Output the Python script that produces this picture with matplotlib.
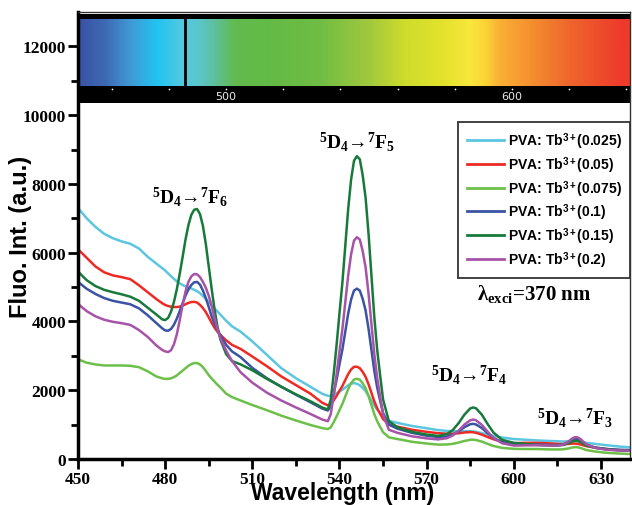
import numpy as np
import matplotlib
matplotlib.use("Agg")
import matplotlib.pyplot as plt
from matplotlib.colors import LinearSegmentedColormap, Normalize

plt.rcParams['mathtext.fontset'] = 'custom'
plt.rcParams['mathtext.rm'] = 'Liberation Serif:bold'
plt.rcParams['mathtext.it'] = 'Liberation Serif:bold'
plt.rcParams['mathtext.bf'] = 'Liberation Serif:bold'
plt.rcParams['mathtext.sf'] = 'Liberation Sans:bold'

# Emission spectra of PVA films doped with Tb3+ (excitation 370 nm)
wavelength = [450, 453, 456, 459, 462, 465, 468, 471, 474, 477,
              479, 480, 481, 482, 483, 484, 485, 486, 487, 488, 489,
              490, 491, 492, 493, 494, 495, 496, 497, 498, 499,
              501, 503, 506, 510, 515, 520, 525, 530, 534,
              536, 537, 538, 539, 540, 541, 542, 543, 544, 545,
              546, 547, 548, 549, 550, 551, 552, 553, 554, 555,
              557, 560, 565, 570, 574, 577, 579, 581, 583, 585, 586, 587,
              589, 591, 593, 596, 600,
              604, 608, 612, 615, 617, 619, 620, 621, 622, 623, 625, 628,
              632, 636, 640]

tb_0025 = [7300, 7000, 6750, 6550, 6420, 6330, 6260, 6120, 5880, 5680,
           5550, 5480, 5400, 5320, 5240, 5170, 5110, 5060, 5020, 4990, 4960,
           4920, 4880, 4820, 4740, 4650, 4560, 4470, 4380, 4290, 4200,
           4020, 3860, 3700, 3420, 3030, 2640, 2350, 2100, 1900,
           1840, 1833, 1867, 1913, 1965, 2014, 2079, 2145, 2191, 2208,
           2187, 2145, 2068, 1975, 1846, 1700, 1554, 1432, 1332, 1245,
           1110, 1050, 960, 895, 840, 817, 808, 807, 810, 807, 800, 789,
           754, 712, 672, 625, 580,
           560, 540, 525, 516, 509, 514, 518, 519, 514, 501, 469, 440,
           400, 365, 340]

tb_005 = [6100, 5850, 5600, 5430, 5340, 5290, 5230, 5050, 4850, 4650,
          4530, 4480, 4450, 4430, 4420, 4420, 4430, 4460, 4500, 4540, 4565,
          4570, 4550, 4480, 4390, 4270, 4120, 3960, 3820, 3700, 3610,
          3450, 3320, 3200, 2980, 2700, 2400, 2150, 1900, 1640,
          1560, 1589, 1702, 1834, 1981, 2122, 2297, 2471, 2604, 2682,
          2683, 2642, 2533, 2388, 2173, 1925, 1675, 1474, 1316, 1164,
          1000, 940, 850, 790, 750, 736, 735, 749, 772, 782, 778, 762,
          709, 639, 574, 505, 460,
          470, 470, 455, 441, 432, 439, 447, 448, 440, 421, 374, 330,
          290, 260, 240]

tb_0075 = [2900, 2800, 2750, 2720, 2720, 2720, 2710, 2670, 2550, 2400,
           2345, 2330, 2330, 2345, 2380, 2430, 2500, 2570, 2640, 2710, 2760,
           2790, 2790, 2750, 2670, 2560, 2440, 2340, 2250, 2160, 2080,
           1900, 1800, 1700, 1570, 1420, 1260, 1120, 990, 900,
           870, 922, 1068, 1238, 1423, 1602, 1819, 2036, 2206, 2312,
           2333, 2306, 2200, 2055, 1830, 1566, 1303, 1094, 933, 779,
           630, 580, 500, 450, 418, 423, 441, 478, 525, 558, 561, 552,
           506, 440, 379, 323, 295,
           290, 290, 280, 277, 281, 311, 333, 345, 341, 319, 260, 217,
           180, 160, 145]

tb_01 = [5150, 4950, 4800, 4680, 4600, 4550, 4500, 4380, 4180, 3950,
         3800, 3740, 3730, 3780, 3900, 4080, 4300, 4530, 4750, 4930, 5060,
         5140, 5150, 5070, 4900, 4680, 4420, 4150, 3930, 3760, 3600,
         3320, 3130, 2960, 2650, 2350, 2100, 1870, 1650, 1470,
         1410, 1540, 1895, 2305, 2753, 3182, 3705, 4228, 4639, 4899,
         4955, 4898, 4654, 4316, 3792, 3174, 2557, 2069, 1695, 1338,
         1000, 880, 760, 680, 640, 656, 708, 805, 925, 1011, 1022, 1005,
         900, 749, 611, 489, 430,
         420, 420, 410, 405, 424, 505, 559, 593, 587, 543, 417, 335,
         290, 270, 260]

tb_015 = [5450, 5200, 5030, 4920, 4850, 4790, 4720, 4600, 4400, 4200,
          4060, 4040, 4100, 4280, 4560, 4930, 5380, 5870, 6380, 6800, 7100,
          7250, 7270, 7120, 6780, 6250, 5600, 4950, 4350, 3850, 3480,
          3050, 2850, 2750, 2580, 2330, 2100, 1880, 1680, 1500,
          1440, 1725, 2462, 3311, 4236, 5124, 6200, 7276, 8125, 8673,
          8808, 8717, 8249, 7592, 6559, 5339, 4118, 3160, 2428, 1734,
          1100, 920, 790, 710, 670, 727, 842, 1043, 1289, 1470, 1499, 1474,
          1290, 1016, 769, 557, 470,
          440, 410, 395, 394, 406, 467, 509, 534, 528, 493, 392, 324,
          280, 255, 240]

tb_02 = [4510, 4300, 4150, 4050, 3990, 3950, 3900, 3750, 3550, 3300,
         3170, 3130, 3110, 3160, 3330, 3620, 4030, 4480, 4870, 5150, 5310,
         5380, 5370, 5290, 5150, 4980, 4750, 4450, 4100, 3780, 3520,
         3150, 2850, 2520, 2220, 1930, 1700, 1500, 1310, 1150,
         1100, 1307, 1842, 2459, 3131, 3775, 4556, 5337, 5954, 6353,
         6450, 6383, 6043, 5566, 4816, 3929, 3041, 2346, 1814, 1310,
         850, 760, 660, 600, 570, 606, 684, 826, 1000, 1126, 1147, 1127,
         993, 794, 614, 458, 390,
         395, 400, 395, 390, 418, 522, 591, 633, 628, 576, 423, 325,
         270, 250, 240]

concentrations = ['0.025', '0.05', '0.075', '0.1', '0.15', '0.2']
series = [tb_0025, tb_005, tb_0075, tb_01, tb_015, tb_02]
colors = ['#5cc6e0', '#ee2a24', '#6cc04a', '#3a53a4', '#177a3a', '#a653a8']

# Visible spectrum strip along the top
spectrum_nm = [450, 459, 468, 477, 486, 492, 497, 504, 516, 533, 550, 563,
               576, 585, 591, 595, 606, 618, 638, 640]
spectrum_rgb = ['#3a53a4', '#3e6ab4', '#3f9bd6', '#21c4f1', '#55c9df', '#5ac6c6',
                '#5ebf9a', '#62bb4e', '#63ba46', '#6fbd44', '#a0c83d', '#cfdc2c',
                '#e3e22c', '#f8e73c', '#fbd234', '#fab234', '#f4902f', '#ef6a2d',
                '#ed3a2b', '#ed3a2b']
strip_ticks = [460, 480, 500, 520, 540, 560, 580, 600, 620, 640]
strip_labels = [500, 600]
marker_nm = 486.7

# Transition labels
transitions = [('$^{5}$D$_{4}$→$^{7}$F$_{6}$', 488.7, 7650),
               ('$^{5}$D$_{4}$→$^{7}$F$_{5}$', 546.2, 9250),
               ('$^{5}$D$_{4}$→$^{7}$F$_{4}$', 584.5, 2480),
               ('$^{5}$D$_{4}$→$^{7}$F$_{3}$', 621.0, 1230)]

fig = plt.figure(figsize=(6.32, 5.06), dpi=100)
ax = fig.add_axes([78 / 632, 46 / 506, 552 / 632, 447 / 506])

for vals, conc, col in zip(series, concentrations, colors):
    ax.plot(wavelength, vals, color=col, lw=1.8,
            label='PVA: Tb$^{\\mathsf{3+}}$(' + conc + ')', solid_joinstyle='round')

# spectrum strip
pos = (np.array(spectrum_nm) - spectrum_nm[0]) / (spectrum_nm[-1] - spectrum_nm[0])
cmap = LinearSegmentedColormap.from_list('vis', list(zip(pos, spectrum_rgb)))
grad = np.linspace(450, 640, 600)[None, :]
ax.imshow(grad, extent=[450, 640, 10840, 12810], aspect='auto', cmap=cmap,
          norm=Normalize(450, 640), origin='lower', interpolation='bilinear', zorder=1)
ax.fill_between([450, 640], 12810, 12930, color='black', lw=0, zorder=2)
ax.fill_between([450, 640], 10350, 10840, color='black', lw=0, zorder=2)
ax.plot([marker_nm, marker_nm], [10840, 12810], color='black', lw=2, zorder=3)
strip_x = [501.0 + (t - 500) * 0.983 for t in strip_ticks]
ax.scatter(strip_x, [10770] * len(strip_x), s=1.5, c='white', zorder=4, lw=0)
for lab in strip_labels:
    ax.text(501.0 + (lab - 500) * 0.983, 10560, str(lab), color='#e8e8e8', fontsize=8,
            ha='center', va='center', family='DejaVu Sans', zorder=4)

for txt, x, y in transitions:
    ax.text(x, y, txt, ha='center', va='center', fontsize=14,
            family='Liberation Serif', fontweight='bold')

ax.text(607, 4830, r'$\mathrm{\lambda}_{\mathrm{exci}}$=370 nm', ha='center', va='center',
        fontsize=15, family='Liberation Serif', fontweight='bold', zorder=6)

ax.set_xlim(450, 640)
ax.set_ylim(0, 13000)
ax.set_xticks(np.arange(450, 631, 30))
ax.set_xticks(np.arange(465, 640, 30), minor=True)
ax.set_yticks(np.arange(0, 12001, 2000))
ax.set_yticks(np.arange(1000, 13000, 2000), minor=True)

for lab in ax.get_xticklabels() + ax.get_yticklabels():
    lab.set_family('Liberation Serif')
    lab.set_fontweight('bold')
    lab.set_fontsize(12.5)

ax.tick_params(which='major', direction='out', length=7, width=2, pad=1.5)
ax.tick_params(which='minor', direction='out', length=5, width=2)
ax.tick_params(axis='x', which='both', top=False)
ax.tick_params(axis='y', which='both', right=False)

for side in ['left', 'bottom']:
    ax.spines[side].set_linewidth(2.5)
for side in ['top', 'right']:
    ax.spines[side].set_linewidth(1.0)
    ax.spines[side].set_color('#333333')

ax.set_xlabel('Wavelength (nm)', family='Liberation Sans', fontweight='bold',
              fontsize=16.5)
ax.xaxis.set_label_coords(0.48, -0.049)
ax.set_ylabel('Fluo. Int. (a.u.)', family='Liberation Sans', fontweight='bold',
              fontsize=17)
ax.yaxis.set_label_coords(-0.083, 0.5)

leg = ax.legend(loc='upper right', bbox_to_anchor=(1.0, 0.754), borderaxespad=0,
                prop={'family': 'Liberation Sans', 'weight': 'bold', 'size': 10},
                handlelength=2.65, handletextpad=0.3, labelspacing=0.2,
                borderpad=0.6, fancybox=False, framealpha=1)
leg.get_frame().set_edgecolor('#333333')
leg.get_frame().set_linewidth(1.3)
for line in leg.get_lines():
    line.set_linewidth(2.0)

fig.savefig('out.png', dpi=100)
